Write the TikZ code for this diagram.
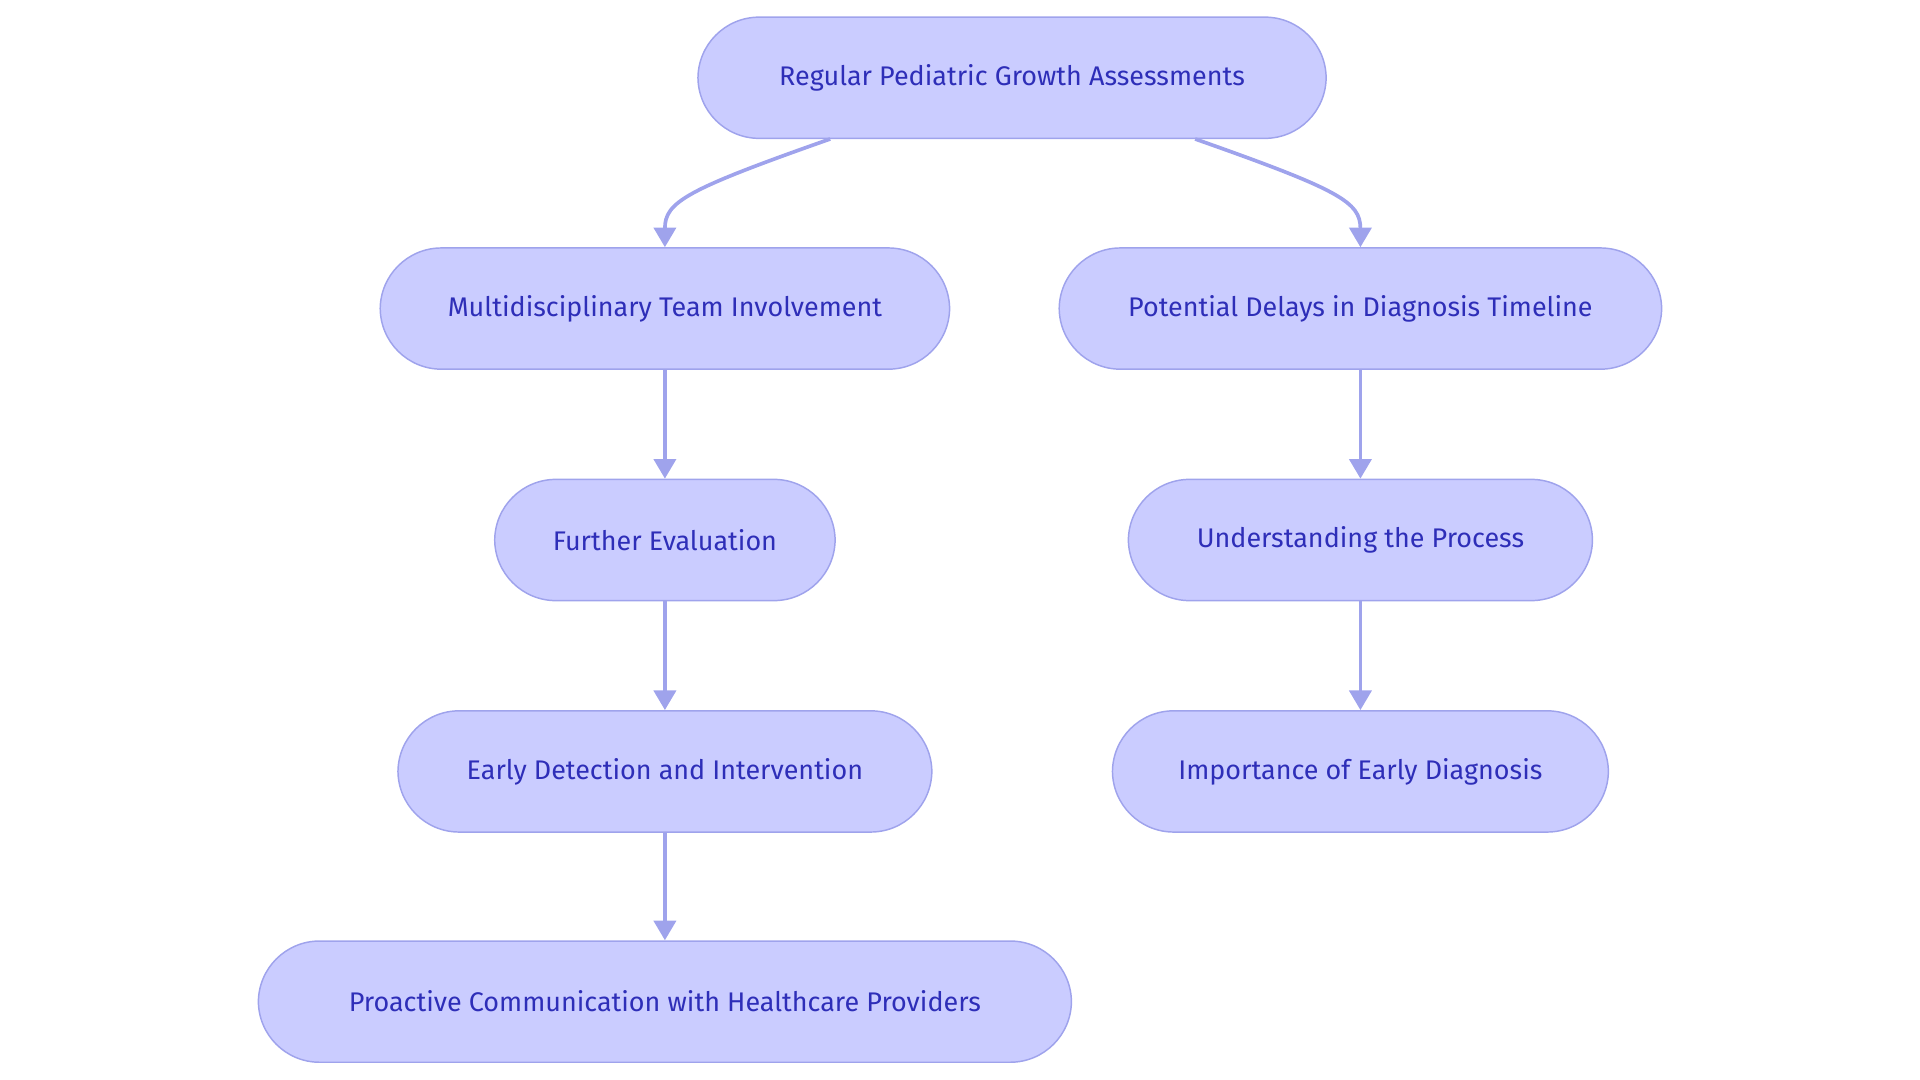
\documentclass[tikz,border=0pt]{standalone}
\usepackage{fontspec}
\setmainfont{Fira Sans}
\usetikzlibrary{arrows.meta}
\definecolor{nfill}{HTML}{CACCFF}
\definecolor{nline}{HTML}{9FA3EC}
\definecolor{ntext}{HTML}{2E2EB8}
\begin{document}
\begin{tikzpicture}[x=1pt,y=-1pt,
  box/.style={draw=nline,line width=1.2pt,fill=nfill,rounded corners=50pt,text=ntext,
    font=\fontsize{22}{26}\selectfont,minimum height=99pt,inner sep=0pt,anchor=center},
  conn/.style={draw=nline,line width=3pt,-{Triangle[length=16pt,width=18pt]}}]
\useasboundingbox (0,0) rectangle (1568,882);
\node[box,minimum width=513pt] (a) at (826.5,63.5) {Regular Pediatric Growth Assessments};
\node[box,minimum width=465pt] (b) at (543,252) {Multidisciplinary Team Involvement};
\node[box,minimum width=492pt] (c) at (1111,252) {Potential Delays in Diagnosis Timeline};
\node[box,minimum width=278pt] (d) at (543,441) {Further Evaluation};
\node[box,minimum width=379pt] (e) at (1111,441) {Understanding the Process};
\node[box,minimum width=436pt] (f) at (543,630) {Early Detection and Intervention};
\node[box,minimum width=405pt] (g) at (1111,630) {Importance of Early Diagnosis};
\node[box,minimum width=664pt] (h) at (543,818) {Proactive Communication with Healthcare Providers};
\coordinate (a1) at (678,113.5);
\coordinate (a2) at (976,113.5);
\draw[conn] (a1) .. controls (560,155) and (543,165) .. (b.north);
\draw[conn] (a2) .. controls (1094,155) and (1111,165) .. (c.north);
\draw[conn] (b) -- (d);
\draw[conn] (d) -- (f);
\draw[conn] (f) -- (h);
\draw[conn] (c) -- (e);
\draw[conn] (e) -- (g);
\end{tikzpicture}
\end{document}
